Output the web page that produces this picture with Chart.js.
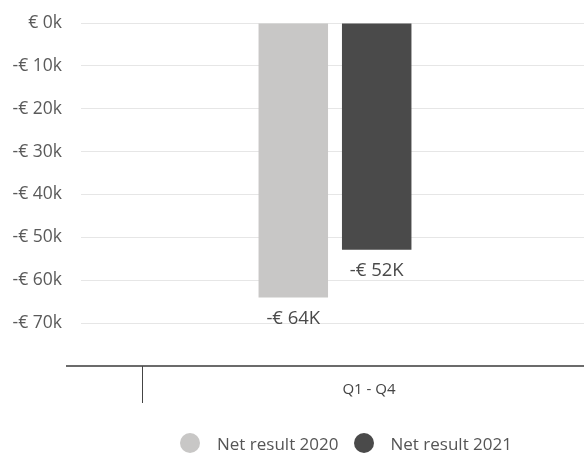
<!DOCTYPE html>
<html>
<head>
<meta charset="utf-8">
<script src="https://cdn.jsdelivr.net/npm/chart.js@4.4.1/dist/chart.umd.min.js"></script>
<style>
    html, body { margin: 0; padding: 0; background: #fff; }
    #wrap { position: relative; width: 584px; height: 455px; }
    #legend {
        position: absolute; left: 180px; top: 433px; height: 20px;
        display: flex; align-items: center;
        font-family: 'Open Sans'; font-size: 17px; color: #555;
    }
    #legend .item { display: flex; align-items: center; margin-right: 15px; white-space: nowrap; }
    #legend .dot { width: 20px; height: 20px; border-radius: 50%; margin-right: 17px; }
</style>
</head>
<body>
<div id="wrap">
    <canvas id="resultChart"></canvas>
    <div id="legend"></div>
</div>
<script>
const categories = ['Q1 - Q4'];
const seriesNames = ['Net result 2020', 'Net result 2021'];
const netResult2020 = [-64000];
const netResult2021 = [-52900];
const seriesColors = ['#c8c7c6', '#4a4a4a'];
const yMin = -80000;
const yMax = 0;
const yStep = 10000;

function formatTick(v) {
    if (v === 0) return '€ 0k';
    return '-€ ' + Math.abs(v / 1000) + 'k';
}

function formatValue(v) {
    return '-€ ' + Math.abs(Math.trunc(v / 1000)) + 'K';
}

// labels under each bar
const valueLabels = {
    id: 'valueLabels',
    afterDatasetsDraw(chart) {
        let ctx = chart.ctx;
        ctx.save();
        ctx.font = '18.5px "Open Sans"';
        ctx.fillStyle = '#4a4a4a';
        ctx.textAlign = 'center';
        ctx.textBaseline = 'middle';
        chart.data.datasets.forEach((ds, i) => {
            chart.getDatasetMeta(i).data.forEach((bar, j) => {
                ctx.fillText(formatValue(ds.data[j]), bar.x, bar.y + 21);
            });
        });
        ctx.restore();
    }
};

// table-like rule below the plot
const tableRule = {
    id: 'tableRule',
    afterDraw(chart) {
        let ctx = chart.ctx;
        let y = chart.scales.y.getPixelForValue(yMin);
        ctx.save();
        ctx.strokeStyle = '#6b6b6b';
        ctx.lineWidth = 2;
        ctx.beginPath();
        ctx.moveTo(66, y);
        ctx.lineTo(chart.chartArea.right, y);
        ctx.stroke();
        ctx.strokeStyle = '#444';
        ctx.lineWidth = 1;
        ctx.beginPath();
        ctx.moveTo(142.5, y);
        ctx.lineTo(142.5, y + 37);
        ctx.stroke();
        ctx.restore();
    }
};

function createLegend(chart) {
    let legend = document.getElementById('legend');
    chart.data.datasets.forEach(ds => {
        let item = document.createElement('span');
        item.className = 'item';
        let dot = document.createElement('span');
        dot.className = 'dot';
        dot.style.background = ds.backgroundColor;
        item.appendChild(dot);
        item.appendChild(document.createTextNode(ds.label));
        legend.appendChild(item);
    });
}

function createResultChart() {
    let chart = new Chart('resultChart', {
        type: 'bar',
        data: {
            labels: categories,
            datasets: [{
                label: seriesNames[0],
                data: netResult2020,
                backgroundColor: seriesColors[0]
            }, {
                label: seriesNames[1],
                data: netResult2021,
                backgroundColor: seriesColors[1]
            }]
        },
        options: {
            responsive: true,
            maintainAspectRatio: false,
            animation: false,
            categoryPercentage: 0.335,
            barPercentage: 0.833,
            layout: { padding: { top: 0, left: 0, right: 0, bottom: 35 } },
            plugins: {
                tooltip: { enabled: false },
                legend: { display: false }
            },
            scales: {
                x: {
                    grid: { display: false },
                    border: { display: false },
                    ticks: {
                        color: '#444',
                        font: { family: 'Open Sans', size: 15 },
                        padding: 7,
                        labelOffset: 34
                    },
                    afterFit(axis) { axis.height = 54; }
                },
                y: {
                    min: yMin,
                    max: yMax,
                    border: { display: false },
                    grid: {
                        drawTicks: true,
                        tickLength: 5,
                        color: ctx => ctx.tick && ctx.tick.value === yMin ? 'rgba(0,0,0,0)' : '#e6e6e6'
                    },
                    ticks: {
                        stepSize: yStep,
                        padding: 19,
                        color: '#5a5a5a',
                        font: { family: 'Open Sans', size: 17.5 },
                        callback: v => v === yMin ? '' : formatTick(v)
                    },
                    afterFit(axis) {
                        axis.width = 86;
                        axis.paddingTop = 23;
                        axis.paddingBottom = 0;
                    }
                }
            }
        },
        plugins: [valueLabels, tableRule]
    });
    createLegend(chart);
}

createResultChart();
</script>
</body>
</html>
